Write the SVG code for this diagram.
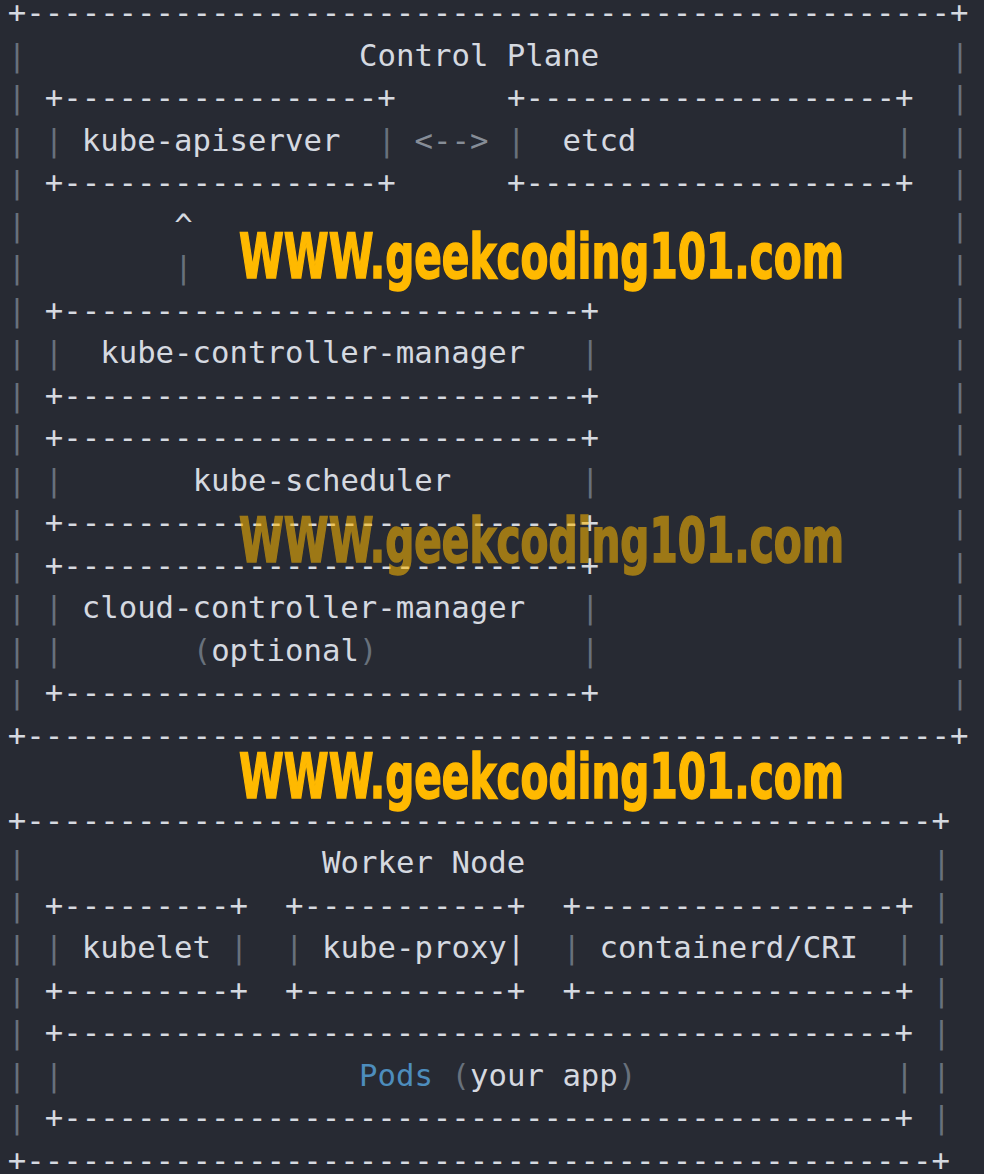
<svg xmlns="http://www.w3.org/2000/svg" width="984" height="1174" viewBox="0 0 984 1174">
<style>
text{font-family:"DejaVu Sans Mono","Liberation Mono",monospace;font-size:30.7px;fill:#d5d9e0;white-space:pre}
.d{fill:#68717c}
.a{fill:#868d97}
.p{fill:#4d8dbd}
.wm{font-family:"DejaVu Sans Condensed","DejaVu Sans",sans-serif;font-weight:bold;font-size:62px;fill:#ffb900;stroke:#ffb900;stroke-width:1.6px}
</style>
<rect width="984" height="1174" fill="#272a33"/>

<g id="control-plane">
<text x="7.75" y="23">+--------------------------------------------------+</text>
<text x="359.06" y="65.5">Control Plane</text>
<g>
<text class="d" x="7.75" y="65.5">|</text><text class="d" x="950.74" y="65.5">|</text>
<text class="d" x="7.75" y="108">|</text><text class="d" x="950.74" y="108">|</text>
<text class="d" x="7.75" y="150.5">|</text><text class="d" x="950.74" y="150.5">|</text>
<text class="d" x="7.75" y="193">|</text><text class="d" x="950.74" y="193">|</text>
<text class="d" x="7.75" y="235.5">|</text><text class="d" x="950.74" y="235.5">|</text>
<text class="d" x="7.75" y="278">|</text><text class="d" x="950.74" y="278">|</text>
<text class="d" x="7.75" y="320.5">|</text><text class="d" x="950.74" y="320.5">|</text>
<text class="d" x="7.75" y="363">|</text><text class="d" x="950.74" y="363">|</text>
<text class="d" x="7.75" y="405.5">|</text><text class="d" x="950.74" y="405.5">|</text>
<text class="d" x="7.75" y="448">|</text><text class="d" x="950.74" y="448">|</text>
<text class="d" x="7.75" y="490.5">|</text><text class="d" x="950.74" y="490.5">|</text>
<text class="d" x="7.75" y="533">|</text><text class="d" x="950.74" y="533">|</text>
<text class="d" x="7.75" y="575.5">|</text><text class="d" x="950.74" y="575.5">|</text>
<text class="d" x="7.75" y="618">|</text><text class="d" x="950.74" y="618">|</text>
<text class="d" x="7.75" y="660.5">|</text><text class="d" x="950.74" y="660.5">|</text>
<text class="d" x="7.75" y="703">|</text><text class="d" x="950.74" y="703">|</text>
</g>
<text x="7.75" y="745.5">+--------------------------------------------------+</text>
</g>

<g id="kube-apiserver">
<text x="44.73" y="108">+-----------------+</text>
<text class="d" x="44.73" y="150.5">|</text>
<text x="81.71" y="150.5">kube-apiserver</text>
<text class="d" x="377.55" y="150.5">|</text>
<text x="44.73" y="193">+-----------------+</text>
</g>

<g id="etcd">
<text x="506.98" y="108">+--------------------+</text>
<text class="d" x="506.98" y="150.5">|</text>
<text x="562.45" y="150.5">etcd</text>
<text class="d" x="895.27" y="150.5">|</text>
<text x="506.98" y="193">+--------------------+</text>
</g>

<g id="kube-controller-manager">
<text x="44.73" y="320.5">+----------------------------+</text>
<text class="d" x="44.73" y="363">|</text>
<text x="100.2" y="363">kube-controller-manager</text>
<text class="d" x="580.94" y="363">|</text>
<text x="44.73" y="405.5">+----------------------------+</text>
</g>

<g id="kube-scheduler">
<text x="44.73" y="448">+----------------------------+</text>
<text class="d" x="44.73" y="490.5">|</text>
<text x="192.65" y="490.5">kube-scheduler</text>
<text class="d" x="580.94" y="490.5">|</text>
<text x="44.73" y="533">+----------------------------+</text>
</g>

<g id="cloud-controller-manager">
<text x="44.73" y="575.5">+----------------------------+</text>
<text class="d" x="44.73" y="618">|</text>
<text x="81.71" y="618">cloud-controller-manager</text>
<text class="d" x="580.94" y="618">|</text>
<text class="d" x="44.73" y="660.5">|</text>
<text class="d" x="192.65" y="660.5">(</text>
<text x="211.14" y="660.5">optional</text>
<text class="d" x="359.06" y="660.5">)</text>
<text class="d" x="580.94" y="660.5">|</text>
<text x="44.73" y="703">+----------------------------+</text>
</g>

<g id="worker-node">
<text x="7.75" y="830.5">+-------------------------------------------------+</text>
<text x="322.08" y="873">Worker Node</text>
<text class="d" x="7.75" y="873">|</text><text class="d" x="932.25" y="873">|</text>
<text class="d" x="7.75" y="915.5">|</text><text class="d" x="932.25" y="915.5">|</text>
<text class="d" x="7.75" y="958">|</text><text class="d" x="932.25" y="958">|</text>
<text class="d" x="7.75" y="1000.5">|</text><text class="d" x="932.25" y="1000.5">|</text>
<text class="d" x="7.75" y="1043">|</text><text class="d" x="932.25" y="1043">|</text>
<text class="d" x="7.75" y="1085.5">|</text><text class="d" x="932.25" y="1085.5">|</text>
<text class="d" x="7.75" y="1128">|</text><text class="d" x="932.25" y="1128">|</text>
<text x="7.75" y="1170.5">+-------------------------------------------------+</text>
</g>

<g id="kubelet">
<text x="44.73" y="915.5">+---------+</text>
<text class="d" x="44.73" y="958">|</text>
<text x="81.71" y="958">kubelet</text>
<text class="d" x="229.63" y="958">|</text>
<text x="44.73" y="1000.5">+---------+</text>
</g>

<g id="kube-proxy">
<text x="285.1" y="915.5">+-----------+</text>
<text class="d" x="285.1" y="958">|</text>
<text x="322.08" y="958">kube-proxy|</text>
<text x="285.1" y="1000.5">+-----------+</text>
</g>

<g id="containerd-cri">
<text x="562.45" y="915.5">+-----------------+</text>
<text class="d" x="562.45" y="958">|</text>
<text x="599.43" y="958">containerd/CRI</text>
<text class="d" x="895.27" y="958">|</text>
<text x="562.45" y="1000.5">+-----------------+</text>
</g>

<g id="pods">
<text x="44.73" y="1043">+---------------------------------------------+</text>
<text class="d" x="44.73" y="1085.5">|</text>
<text class="p" x="359.06" y="1085.5">Pods</text>
<text class="d" x="451.51" y="1085.5">(</text>
<text x="470" y="1085.5">your app</text>
<text class="d" x="617.92" y="1085.5">)</text>
<text class="d" x="895.27" y="1085.5">|</text>
<text x="44.73" y="1128">+---------------------------------------------+</text>
</g>

<g id="connectors">
<text class="a" x="414.53" y="150.5">&lt;--&gt;</text>
<text x="174.16" y="235.5">^</text>
<text class="d" x="174.16" y="278">|</text>
</g>

<g id="watermarks">
<text class="wm" x="239" y="278" textLength="605" lengthAdjust="spacingAndGlyphs">WWW.geekcoding101.com</text>
<text class="wm" x="239" y="562" textLength="605" lengthAdjust="spacingAndGlyphs" opacity="0.55">WWW.geekcoding101.com</text>
<text class="wm" x="239" y="798" textLength="605" lengthAdjust="spacingAndGlyphs">WWW.geekcoding101.com</text>
</g>
</svg>
